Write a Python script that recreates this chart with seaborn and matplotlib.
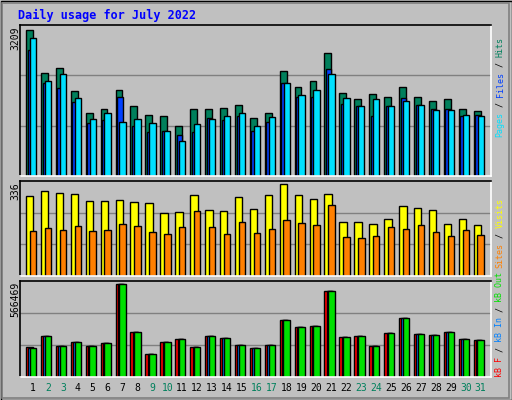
import numpy as np
import pandas as pd
import matplotlib
matplotlib.use("Agg")
import matplotlib.pyplot as plt
import seaborn as sns
from matplotlib.patches import Rectangle

days = np.arange(1, 32)
hits = [3208,2267,2377,1874,1371,1480,1895,1545,1327,1305,1086,1480,1480,1502,1567,1261,1392,2311,1961,2092,2705,1830,1699,1808,1742,1961,1742,1655,1699,1480,1436]
files = [2756,2048,1939,1633,1152,1217,1742,1086,955,977,889,955,1261,1217,1305,977,1174,2048,1742,1742,2355,1589,1524,1305,1545,1720,1567,1480,1480,1305,1327]
pages = [3033,2092,2245,1720,1239,1371,1174,1239,1152,977,758,1130,1239,1305,1392,1086,1283,2048,1786,1895,2245,1720,1524,1699,1545,1655,1567,1458,1458,1327,1305]
visits = [292,311,303,300,274,274,278,270,267,230,234,296,241,238,289,245,296,336,296,281,300,197,197,190,208,256,248,241,190,208,186]
sites = [164,175,168,183,164,168,190,183,161,153,179,238,179,153,197,157,172,205,194,186,259,143,139,146,179,172,186,161,146,168,150]
kb_out = [176558,250466,188876,213512,188876,207353,566469,275102,139604,213512,231989,182717,250466,238148,195035,176558,195035,349010,305897,312056,521462,244307,250466,188876,268943,361328,262784,256625,275102,231989,225830]
kb_f = [182717,250466,188876,213512,188876,207353,566469,275102,139604,213512,231989,182717,250466,238148,195035,176558,195035,349010,305897,312056,521462,244307,250466,188876,268943,361328,262784,256625,275102,231989,225830]
kb_in = kb_out
weekend = {2,3,9,10,16,17,23,24,30,31}

sns.set_style("white")
BG = "#c0c0c0"
fig = plt.figure(figsize=(5.12, 4.0), dpi=100, facecolor=BG)
W, H = 512, 400
mono = "DejaVu Sans Mono"

def axes_px(top, bottom):
    return fig.add_axes([20/W, (H-bottom)/H, 471/W, (bottom-top)/H])

axT = axes_px(25, 176)
axM = axes_px(181, 276)
axB = axes_px(281, 377)

def bars(ax, off, vals, w, color):
    sns.barplot(x=days + off, y=vals, native_scale=True, width=w, color=color,
                saturation=1, edgecolor="black", linewidth=1, ax=ax)

def style(ax, ymax):
    ax.set_facecolor(BG)
    ax.set_ylim(0, ymax)
    ax.set_xlim(1 - 0.87, 31 + 0.69)
    for f in (1/3, 2/3):
        ax.axhline(ymax*f, color="#808080", lw=1, zorder=0)
    ax.set_yticks([]); ax.set_ylabel(""); ax.set_xlabel("")
    for s in ("left", "top"):
        ax.spines[s].set_color("black")
    for s in ("right", "bottom"):
        ax.spines[s].set_color("white")
    for s in ax.spines.values():
        s.set_linewidth(1.2)
    ax.set_axisbelow(True)

bars(axT, -0.24, hits, 0.46, "#00805c")
bars(axT, -0.18, files, 0.36, "#0040ff")
bars(axT, 0.0, pages, 0.42, "#00e0ff")
style(axT, 3311)
axT.set_xticks([])

bars(axM, -0.22, visits, 0.5, "#ffff00")
bars(axM, 0.0, sites, 0.43, "#ff8000")
style(axM, 347)
axM.set_xticks([])

bars(axB, -0.22, kb_f, 0.5, "#ff0000")
bars(axB, -0.12, kb_in, 0.38, "#0080ff")
bars(axB, 0.0, kb_out, 0.43, "#00e000")
style(axB, 585000)
axB.set_xticks(days)
axB.set_xticklabels([str(d) for d in days], family=mono, fontsize=7)
axB.tick_params(axis="x", length=0, pad=4)
for lab, d in zip(axB.get_xticklabels(), days):
    lab.set_color("#00805c" if d in weekend else "black")

fig.text(18/W, 1-15/H, "Daily usage for July 2022", family=mono, weight="bold",
         fontsize=8.5, color="#0000ff", va="center", ha="left")

for y, t in ((26, "3209"), (182, "336"), (282, "566469")):
    fig.text(15.5/W, 1-y/H, t, family=mono, fontsize=7, rotation=90,
             ha="center", va="top", color="black")

FS = 6.0
cw = 0.602*FS*100/72
def vlabel(y_bottom, parts):
    y = y_bottom
    for txt, col in parts:
        fig.text(500/W, 1-y/H, txt, family=mono, fontsize=FS, rotation=90,
                 ha="center", va="bottom", color=col)
        y -= cw*len(txt)

vlabel(137, [("Pages", "#00e0ff"), (" / ", "#000000"), ("Files", "#0040ff"),
             (" / ", "#000000"), ("Hits", "#00805c")])
vlabel(268, [("Sites", "#ff8000"), (" / ", "#000000"), ("Visits", "#ffff00")])
vlabel(377, [("kB F", "#ff0000"), (" / ", "#000000"), ("kB In", "#0080ff"),
             (" / ", "#000000"), ("kB Out", "#00e000")])

fig.patches.append(Rectangle((0.5/W, 0.5/H), 1-1/W, 1-1/H, transform=fig.transFigure,
                             fill=False, edgecolor="black", lw=1))
fig.patches.append(Rectangle((2/W, 2/H), 1-5/W, 1-5/H, transform=fig.transFigure,
                             fill=False, edgecolor="#808080", lw=1.2))

fig.savefig("out.png", dpi=100, facecolor=BG)
